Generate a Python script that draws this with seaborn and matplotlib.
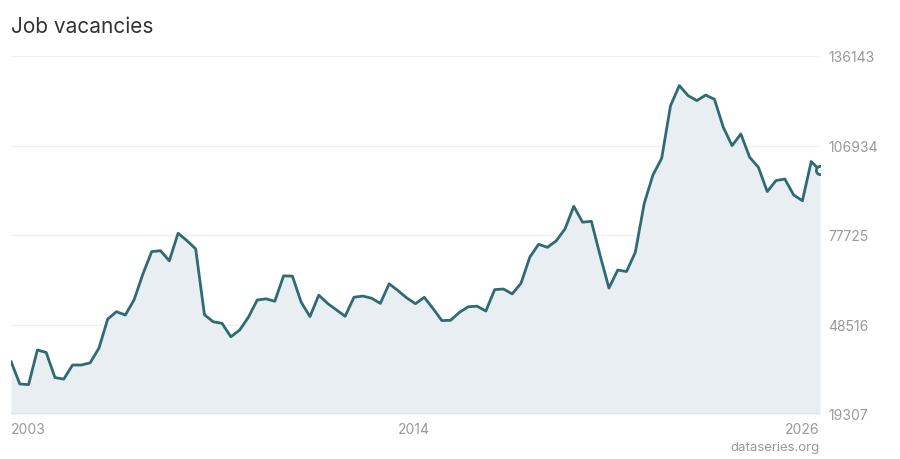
import numpy as np
import pandas as pd
import seaborn as sns
import matplotlib.pyplot as plt

# Quarterly job vacancies, 2003 Q1 .. 2026 Q1
vacancies = [
    36500, 29100, 28900, 40200, 39400, 31200, 30700, 35300, 35300, 36000,
    40800, 50300, 52700, 51600, 56600, 65000, 72300, 72600, 69300, 78300,
    75900, 73200, 51700, 49400, 48900, 44500, 46700, 50900, 56500, 56900,
    56100, 64400, 64300, 55800, 51100, 58100, 55400, 53300, 51200, 57400,
    57800, 57100, 55400, 61800, 59600, 57200, 55300, 57400, 53700, 49800,
    49900, 52500, 54300, 54500, 52900, 59900, 60100, 58500, 62000, 70500,
    74700, 73700, 75800, 79700, 87100, 81900, 82200, 71000, 60400, 66300,
    65800, 72100, 87900, 97300, 102800, 119900, 126500, 123200, 121600, 123400,
    122000, 112900, 106900, 110700, 103100, 99800, 91900, 95500, 96000, 90800,
    88900, 101700, 98800,
]
y_ticks = [19307, 48516, 77725, 106934, 136143]
x_labels = ["2003", "2014", "2026"]
x_label_pos = [0, 44, len(vacancies) - 1]

df = pd.DataFrame({"t": np.arange(len(vacancies)), "value": vacancies})

sns.set_style("white")
plt.rcParams["font.family"] = ["Inter", "DejaVu Sans"]

line_color = "#2f6b75"
fig = plt.figure(figsize=(9, 4.6), dpi=100)
ax = fig.add_axes([11 / 900, 1 - 415 / 460, 809 / 900, (415 - 57) / 460])

ax.fill_between(df["t"], df["value"], y_ticks[0], color="#e8eef1", lw=0)
sns.lineplot(data=df, x="t", y="value", ax=ax, color=line_color, lw=2)
# end marker, half hidden by the plot edge like the original
ax.plot(df["t"].iloc[-1], df["value"].iloc[-1], "o", ms=6, mfc="white",
        mec=line_color, mew=2, zorder=5)

ax.set_xlim(0, len(vacancies) - 1)
ax.set_ylim(y_ticks[0], y_ticks[-1])
for yt in y_ticks[1:]:
    ax.axhline(yt, color="#f0f0f0", lw=1, zorder=0)
ax.axhline(y_ticks[0], color="#dde0e3", lw=1.2, zorder=3)

ax.set_yticks(y_ticks)
ax.set_yticklabels([str(v) for v in y_ticks])
ax.yaxis.tick_right()
ax.tick_params(axis="y", length=0, pad=6, labelsize=10, labelcolor="#999999")
ax.set_xticks([])
for pos, lab, ha in zip(x_label_pos, x_labels, ["left", "left", "right"]):
    ax.text(pos, -0.022, lab, transform=ax.get_xaxis_transform(), ha=ha,
            va="top", fontsize=10, color="#999999")

ax.set_xlabel("")
ax.set_ylabel("")
for s in ax.spines.values():
    s.set_visible(False)

fig.text(11 / 900, 1 - 27 / 460, "Job vacancies", fontsize=15,
         color="#333333", va="center", ha="left")
fig.text(820 / 900, 1 - 448 / 460, "dataseries.org", fontsize=9.5,
         color="#999999", va="center", ha="right")

fig.savefig("out.png", dpi=100)
